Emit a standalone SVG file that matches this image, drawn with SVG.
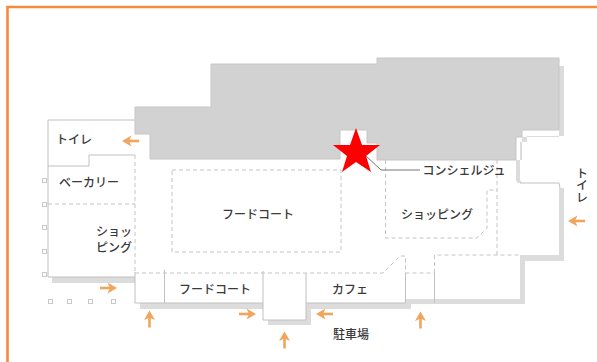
<svg xmlns="http://www.w3.org/2000/svg" width="597" height="362" viewBox="0 0 597 362">
<style>
.lbl{font-family:"Noto Sans CJK JP","Noto Sans",sans-serif;font-size:12px;font-weight:500;fill:#3a3a3a}
.sh{fill:#dcdcdc}
.wall{fill:none;stroke:#c0c0c0;stroke-width:1}
.dash{fill:none;stroke:#c4c4c4;stroke-width:1;stroke-dasharray:4 3}
.sq{fill:#fff;stroke:#c8c8c8;stroke-width:1}
.arr{fill:none;stroke:#f0a45c;stroke-width:2.600}
.head{fill:#f0a45c}
</style>
<defs>
<g id="a"><path d="M-8.500 0H4" class="arr"/><path d="M8.500 0L-1 -5.500L1.500 0L-1 5.500Z" class="head"/></g>
</defs>
<rect width="597" height="362" fill="#fff"/>
<path d="M7.500 362V7H597" fill="none" stroke="#f58a3a" stroke-width="2.600"/>
<g id="shadow">
<path class="sh" d="M52 277H135V283H52Z"/>
<path class="sh" d="M140 303H263V309H140Z"/>
<path class="sh" d="M268 320H311V325H268Z"/>
<path class="sh" d="M306 303H411V309H306Z"/>
<path class="sh" d="M306 303H311V325H306Z"/>
<path class="sh" d="M405 299H524V304H405Z"/>
<path class="sh" d="M520 255H564V261H525V304H520Z"/>
<path class="sh" d="M559 188H564V261H559Z"/>
<path class="sh" d="M559 66H564V136H527V142H520V180L522 183H518L516 181V160H522V137H559Z"/>
</g>
<g id="building">
<path fill="#d2d2d3" stroke="#c6c6c6" d="M211 64H377V58H559V130H522V137H516V160H377V143H367V130H340V159H150V134H135V107H211Z"/>
</g>
<g id="walls">
<path class="wall" d="M135 120H48V277H135"/>
<path class="wall" d="M48 166H89V155H135"/>
<path class="wall" d="M135 272V303H263V320H306V303H405.500V273"/>
<path class="wall" d="M164.500 270V303M263 271V303M306 273V303M434.500 273V303"/>
<path class="wall" d="M520 183H559L560 188"/>
</g>
<g id="dashes">
<path class="dash" d="M135 155V272"/>
<path class="dash" d="M48 204H135"/>
<path class="dash" d="M135 273H383L400 256H405.500V273M405.500 273H434.500"/>
<path class="dash" d="M434.500 273V255H520"/>
<path class="dash" d="M172 170H341V252H172Z"/>
<path class="dash" d="M385.500 160V238H477L487 228V190H497"/>
<path class="dash" d="M497 160V255"/>
</g>
<g id="squares">
<rect class="sq" x="42.500" y="178.500" width="4" height="4"/>
<rect class="sq" x="42.500" y="202.500" width="4" height="4"/>
<rect class="sq" x="42.500" y="225.500" width="4" height="4"/>
<rect class="sq" x="42.500" y="249.500" width="4" height="4"/>
<rect class="sq" x="42.500" y="272.500" width="4" height="4"/>
<rect class="sq" x="48.500" y="299.500" width="4" height="4"/>
<rect class="sq" x="67.500" y="299.500" width="4" height="4"/>
<rect class="sq" x="88.500" y="299.500" width="4" height="4"/>
<rect class="sq" x="111.500" y="299.500" width="4" height="4"/>
</g>
<g id="connectors">
<use href="#a" transform="translate(130.500,141) rotate(180)"/>
<use href="#a" transform="translate(108.500,288)"/>
<use href="#a" transform="translate(149.500,319) rotate(-90)"/>
<use href="#a" transform="translate(247.500,314)"/>
<use href="#a" transform="translate(284.500,340) rotate(-90)"/>
<use href="#a" transform="translate(324.500,314) rotate(180)"/>
<use href="#a" transform="translate(420.500,320) rotate(-90)"/>
<use href="#a" transform="translate(576.500,221) rotate(180)"/>
<path d="M365 155L381 170H420" fill="none" stroke="#777" stroke-width="1"/>
</g>
<g id="star"><polygon fill="#ff0000" points="356,128 362,145 380,145 366,156 371,172 356,162 342,172 347,156 333,145 350,145"/></g>
<g id="labels">
<text class="lbl" x="74" y="144" text-anchor="middle">トイレ</text>
<text class="lbl" x="89" y="187" text-anchor="middle">ベーカリー</text>
<text class="lbl" x="132" y="236" text-anchor="end">ショッ</text>
<text class="lbl" x="132" y="252" text-anchor="end">ピング</text>
<text class="lbl" x="258" y="219" text-anchor="middle">フードコート</text>
<text class="lbl" x="437" y="219" text-anchor="middle">ショッピング</text>
<text class="lbl" x="464" y="175" text-anchor="middle">コンシェルジュ</text>
<text class="lbl" x="582" y="185.500" text-anchor="middle" style="writing-mode:vertical-rl">トイレ</text>
<text class="lbl" x="215" y="294" text-anchor="middle">フードコート</text>
<text class="lbl" x="350" y="294" text-anchor="middle">カフェ</text>
<text class="lbl" x="351" y="339" text-anchor="middle">駐車場</text>
</g>
</svg>
